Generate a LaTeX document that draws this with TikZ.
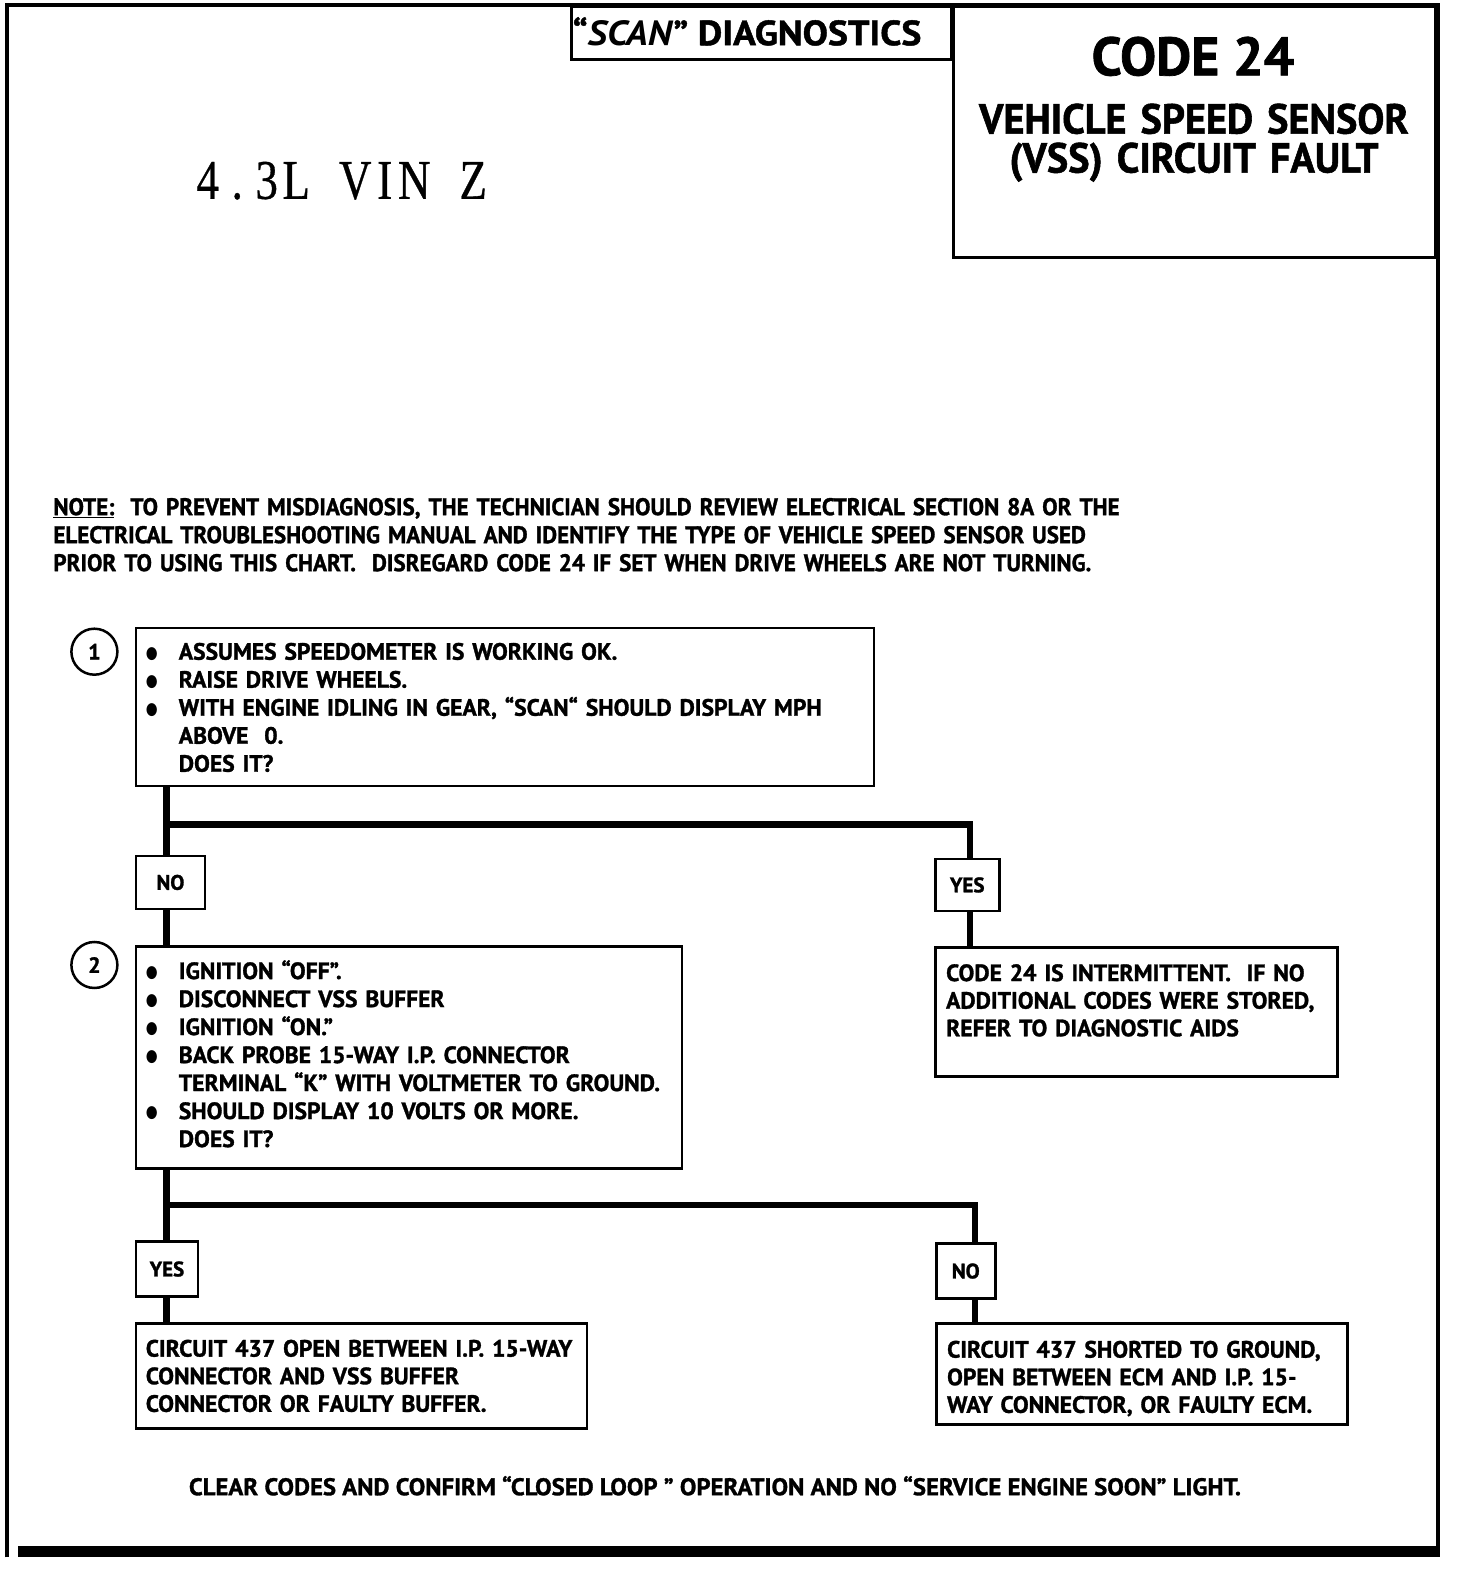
\documentclass[tikz,border=0pt]{standalone}
\usepackage{fontspec}
\setmainfont{PT Sans}[BoldFeatures={FakeBold=1.3}]
\newfontfamily\notefont[FakeStretch=0.96,BoldFeatures={FakeBold=1.3}]{PT Sans}
\newfontfamily\widefont[FakeStretch=1.03,BoldFeatures={FakeBold=1.3}]{PT Sans}
\newfontfamily\scanfont[FakeStretch=1.08,BoldFeatures={FakeBold=1.3}]{PT Sans}
\newfontfamily\titlefont[FakeStretch=0.96,BoldFeatures={FakeBold=1.3}]{PT Sans}
\newfontfamily\serfont[FakeStretch=0.8,FakeBold=0.6]{Liberation Serif}
\newfontfamily\dejavu{DejaVu Sans}
\newcommand\mch[1]{\makebox[29.5pt]{#1}}
\newcommand\bul{\makebox[32pt][l]{\hspace*{-1pt}\raisebox{1.5pt}{\dejavu\fontsize{17}{17}\selectfont\scalebox{0.8}[1]{●}}}}
\begin{document}
\begin{tikzpicture}[x=1.0041pt,y=-1.0041pt,
  frame/.style={line width=3.5pt},
  box/.style={draw, line width=2.8pt, inner sep=0pt, anchor=north west},
  yn/.style={draw, line width=2.8pt, inner sep=0pt, anchor=north west, font=\fontsize{21}{21}\selectfont\bfseries},
  txt/.style={font=\fontsize{23.6}{28}\selectfont\bfseries, align=left, anchor=base west, inner sep=0pt},
  txtb/.style={txt, font=\fontsize{23.6}{27.6}\selectfont\bfseries},
  ctxt/.style={font=\notefont\fontsize{24}{28}\selectfont\bfseries, align=left, anchor=base west, inner sep=0pt},
  wire/.style={line width=6.8pt},
  num/.style={draw, circle, line width=2.5pt, minimum size=46pt, inner sep=0pt, font=\fontsize{22}{22}\selectfont\bfseries}]
\useasboundingbox (0,0) rectangle (1450,1567.5);

% outer frame
\draw[frame] (7,1551) -- (7,5) -- (1432,5) -- (1432,1551);
\draw[line width=11pt] (18,1545) -- (1434,1545);

% header boxes
\node[box, minimum width=380pt, minimum height=53pt] (scan) at (568,5) {};
\node[font=\scanfont\fontsize{35}{35}\selectfont\bfseries, anchor=base, inner sep=0pt] (scant) at (744,45) {“\textit{SCAN}” DIAGNOSTICS};
\node[box, minimum width=482pt, minimum height=251pt] (code) at (948,5) {};
\node[font=\fontsize{54}{54}\selectfont\bfseries, anchor=base, inner sep=0pt] (codet) at (1188,75) {CODE 24};
\node[font=\titlefont\fontsize{42}{39}\selectfont\bfseries, align=center, anchor=base, inner sep=0pt, text width=470pt] (codes) at (1189,133) {VEHICLE SPEED SENSOR\\(VSS) CIRCUIT FAULT};

\node[font=\serfont\fontsize{56}{56}\selectfont, anchor=base west, inner sep=0pt] (vin) at (192,198) {\mch{4}\mch{.}\mch{3}\mch{L}\mch{}\mch{V}\mch{I}\mch{N}\mch{}\mch{Z}};

% note
\node[ctxt, text width=1150pt] (note) at (53,513) {\underline{NOTE:}\ \ TO PREVENT MISDIAGNOSIS, THE TECHNICIAN SHOULD REVIEW ELECTRICAL SECTION 8A OR THE\\ELECTRICAL TROUBLESHOOTING MANUAL AND IDENTIFY THE TYPE OF VEHICLE SPEED SENSOR USED\\PRIOR TO USING THIS CHART.\ \ DISREGARD CODE 24 IF SET WHEN DRIVE WHEELS ARE NOT TURNING.};

% step 1
\node[num] (n1) at (94,649) {1};
\node[box, minimum width=738pt, minimum height=158pt] (b1) at (134,624) {};
\node[txt, text width=700pt] (t1) at (146,657) {\bul ASSUMES SPEEDOMETER IS WORKING OK.\\
\bul RAISE DRIVE WHEELS.\\
\bul WITH ENGINE IDLING IN GEAR, “SCAN“ SHOULD DISPLAY MPH\\
\hspace*{32pt}ABOVE\ \ 0.\\
\hspace*{32pt}DOES IT?};

\node[yn, minimum width=69pt, minimum height=53pt] (no1) at (134,851) {NO};
\node[yn, minimum width=64pt, minimum height=52pt] (yes1) at (930,854) {YES};
\coordinate (j1) at (166,821);
\coordinate (j1r) at (966,821);
\draw[wire] (b1.south -| j1) -- (j1 |- no1.north);
\draw[wire] (j1) -- (j1r) -- (j1r |- yes1.north);

% step 2
\node[num] (n2) at (94,961) {2};
\node[box, minimum width=546pt, minimum height=222pt] (b2) at (134,941) {};
\node[txt, text width=540pt] (t2) at (146,975) {\bul IGNITION “OFF”.\\
\bul DISCONNECT VSS BUFFER\\
\bul IGNITION “ON.”\\
\bul BACK PROBE 15-WAY I.P. CONNECTOR\\
\hspace*{32pt}TERMINAL “K” WITH VOLTMETER TO GROUND.\\
\bul SHOULD DISPLAY 10 VOLTS OR MORE.\\
\hspace*{32pt}DOES IT?};
\draw[wire] (no1.south -| j1) -- (b2.north -| j1);

\node[box, minimum width=402pt, minimum height=129pt] (b3) at (930,942) {};
\node[txtb, text width=395pt] (t3) at (942,977) {CODE 24 IS INTERMITTENT.\ \ IF NO\\ADDITIONAL CODES WERE STORED,\\REFER TO DIAGNOSTIC AIDS};
\draw[wire] (yes1.south -| j1r) -- (b3.north -| j1r);

\node[yn, minimum width=62pt, minimum height=55pt] (yes2) at (134,1235) {YES};
\node[yn, minimum width=59pt, minimum height=55pt] (no2) at (931,1237) {NO};
\coordinate (j2) at (166,1200);
\coordinate (j2r) at (971,1200);
\draw[wire] (b2.south -| j2) -- (j2 |- yes2.north);
\draw[wire] (j2) -- (j2r) -- (j2r |- no2.north);

\node[box, minimum width=451pt, minimum height=105pt] (b4) at (134,1317) {};
\node[txtb, text width=440pt] (t4) at (145,1351) {CIRCUIT 437 OPEN BETWEEN I.P. 15-WAY\\CONNECTOR AND VSS BUFFER\\CONNECTOR OR FAULTY BUFFER.};
\draw[wire] (yes2.south -| j2) -- (b4.north -| j2);

\node[box, minimum width=411pt, minimum height=101pt] (b5) at (931,1317) {};
\node[txtb, text width=405pt] (t5) at (943,1352) {CIRCUIT 437 SHORTED TO GROUND,\\OPEN BETWEEN ECM AND I.P. 15-\\WAY CONNECTOR, OR FAULTY ECM.};
\draw[wire] (no2.south -| j2r) -- (b5.north -| j2r);

\node[font=\widefont\fontsize{24}{28}\selectfont\bfseries, anchor=base, inner sep=0pt] (clear) at (712,1489) {CLEAR CODES AND CONFIRM “CLOSED LOOP ” OPERATION AND NO “SERVICE ENGINE SOON” LIGHT.};
\end{tikzpicture}
\end{document}
